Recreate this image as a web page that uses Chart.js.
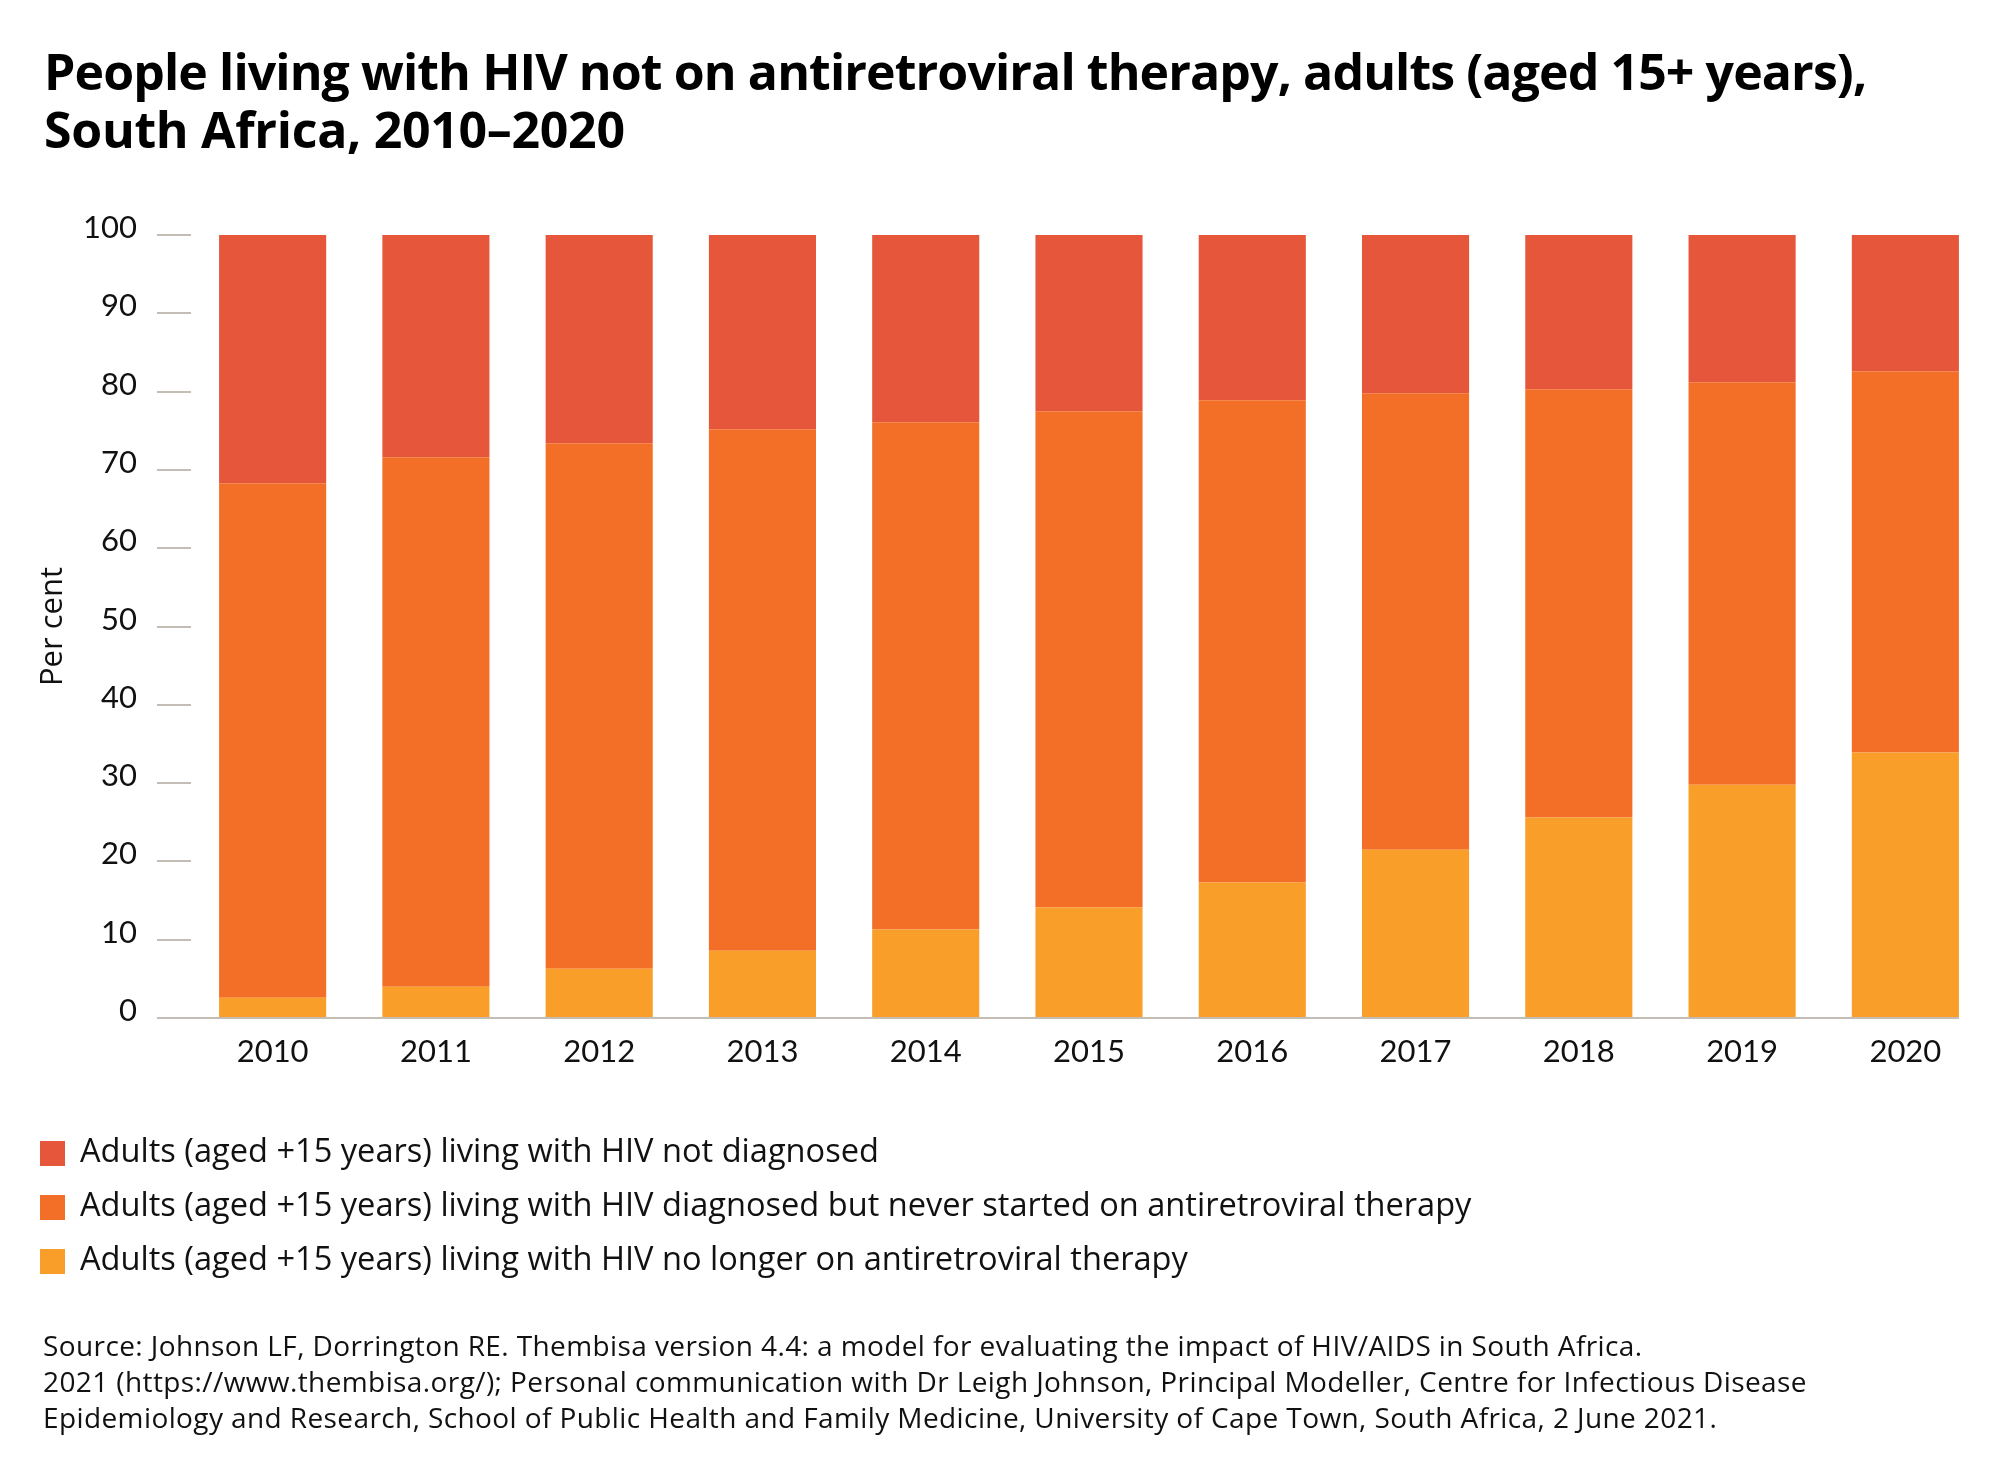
<!DOCTYPE html>
<html>
<head>
<meta charset="utf-8">
<script src="https://cdn.jsdelivr.net/npm/chart.js@4.4.1/dist/chart.umd.min.js"></script>
<style>
  html, body { margin:0; padding:0; background:#fff; }
  body { width:2012px; height:1476px; position:relative; overflow:hidden; font-family:'Open Sans', 'Lato', sans-serif; color:#000; }
  #wrap { position:absolute; left:0; top:0; width:2012px; height:1476px; }
  #title { position:absolute; left:44px; top:42px; font-weight:700; font-size:50px; line-height:58px; white-space:nowrap; }
  #t1 { letter-spacing:-0.9px; }
  #t2 { letter-spacing:-0.3px; }
  #legend { position:absolute; left:40px; top:1130px; }
  .li { position:relative; height:54px; white-space:nowrap; }
  .sw { position:absolute; left:0; top:11px; width:25px; height:25px; }
  .lt { position:absolute; left:40px; top:0; font-size:32.6px; line-height:40px; color:#111; }
  #source { position:absolute; left:43px; top:1327px; font-size:28px; line-height:36px; letter-spacing:0.4px; white-space:nowrap; color:#111; }
</style>
</head>
<body>
<div id="wrap"><canvas id="c"></canvas></div>
<div id="title"><span id="t1">People living with HIV not on antiretroviral therapy, adults (aged 15+ years),</span><br><span id="t2">South Africa, 2010–2020</span></div>
<div id="legend"></div>
<div id="source">Source: Johnson LF, Dorrington RE. Thembisa version 4.4: a model for evaluating the impact of HIV/AIDS in South Africa.<br>2021 (https://www.thembisa.org/); Personal communication with Dr Leigh Johnson, Principal Modeller, Centre for Infectious Disease<br>Epidemiology and Research, School of Public Health and Family Medicine, University of Cape Town, South Africa, 2 June 2021.</div>
<script>
// ---- data ----
const years = ['2010','2011','2012','2013','2014','2015','2016','2017','2018','2019','2020'];
const notDiagnosed = [31.7, 28.4, 26.6, 24.8, 23.9, 22.5, 21.1, 20.2, 19.7, 18.8, 17.4];
const diagnosedNeverStarted = [65.7, 67.6, 67.1, 66.6, 64.8, 63.4, 61.6, 58.3, 54.7, 51.4, 48.7];
const noLongerOnART = [2.6, 4.0, 6.3, 8.6, 11.3, 14.1, 17.3, 21.5, 25.6, 29.8, 33.9];
const seriesLabels = [
  'Adults (aged +15 years) living with HIV not diagnosed',
  'Adults (aged +15 years) living with HIV diagnosed but never started on antiretroviral therapy',
  'Adults (aged +15 years) living with HIV no longer on antiretroviral therapy'
];
const yTicks = [0,10,20,30,40,50,60,70,80,90,100];
const colors = ['#E6563A', '#F36F27', '#F99E28'];
const gridGray = '#C4BDB6';

const baseline = {
  id: 'baseline',
  afterDatasetsDraw(chart) {
    const ctx = chart.ctx, ys = chart.scales.y;
    const y = ys.getPixelForValue(0);
    const meta = chart.getDatasetMeta(0);
    const last = meta.data[meta.data.length - 1];
    ctx.save();
    ctx.strokeStyle = gridGray;
    ctx.lineWidth = 2;
    ctx.beginPath();
    ctx.moveTo(ys.right - 34, y);
    ctx.lineTo(last.x + last.width / 2, y);
    ctx.stroke();
    ctx.restore();
  }
};

const chart = new Chart(document.getElementById('c'), {
  type: 'bar',
  data: {
    labels: years,
    datasets: [
      { label: seriesLabels[2], data: noLongerOnART, backgroundColor: colors[2] },
      { label: seriesLabels[1], data: diagnosedNeverStarted, backgroundColor: colors[1] },
      { label: seriesLabels[0], data: notDiagnosed, backgroundColor: colors[0] }
    ]
  },
  options: {
    responsive: true,
    maintainAspectRatio: false,
    animation: false,
    devicePixelRatio: 1,
    layout: { padding: { left: 0, top: 235, right: 25, bottom: 378 } },
    datasets: { bar: { categoryPercentage: 1, barPercentage: 0.656, borderWidth: 0 } },
    plugins: { legend: { display: false }, tooltip: { enabled: false }, title: { display: false } },
    scales: {
      x: {
        stacked: true,
        grid: { display: false, drawTicks: false },
        border: { display: false },
        ticks: { color: '#111', font: { family: 'Lato', size: 31 }, padding: 15, maxRotation: 0 },
        afterFit(s) { s.height = 80; }
      },
      y: {
        stacked: true,
        min: 0, max: 100,
        afterBuildTicks(s) { s.ticks = yTicks.map(v => ({ value: v })); },
        grid: { drawOnChartArea: false, drawTicks: true, tickLength: 34, color: gridGray, lineWidth: 2 },
        border: { display: false },
        ticks: { color: '#111', font: { family: 'Lato', size: 31 }, padding: 20, labelOffset: -7 },
        title: { display: true, text: 'Per cent', color: '#111', font: { family: 'Open Sans', size: 31 }, padding: { top: 35 } },
        afterFit(s) { s.width = 191; }
      }
    }
  },
  plugins: [baseline]
});

// HTML legend built from the chart's datasets (top segment first)
const lg = document.getElementById('legend');
chart.data.datasets.slice().reverse().forEach(ds => {
  const row = document.createElement('div'); row.className = 'li';
  const sw = document.createElement('div'); sw.className = 'sw'; sw.style.background = ds.backgroundColor;
  const t = document.createElement('div'); t.className = 'lt'; t.textContent = ds.label;
  row.appendChild(sw); row.appendChild(t); lg.appendChild(row);
});
</script>
</body>
</html>
